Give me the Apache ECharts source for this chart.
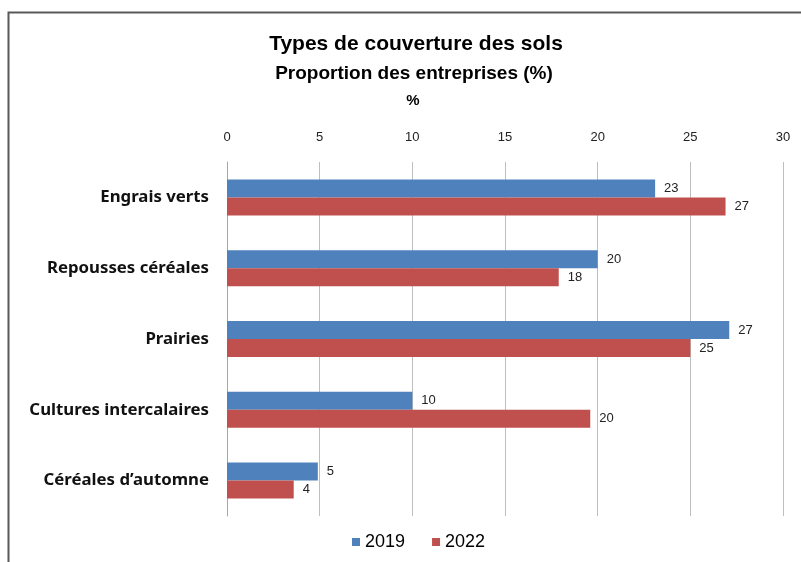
<!DOCTYPE html>
<html>
<head>
<meta charset="utf-8">
<script src="https://cdn.jsdelivr.net/npm/echarts@6/dist/echarts.min.js"></script>
<style>
html,body{margin:0;padding:0;background:#fff;}
#chart{width:801px;height:562px;}
</style>
</head>
<body>
<div id="chart"></div>
<script>
var categories = ['Engrais verts', 'Repousses céréales', 'Prairies', 'Cultures intercalaires', 'Céréales d’automne'];
var values2019 = [23.1, 20.0, 27.1, 10.0, 4.9];
var values2022 = [26.9, 17.9, 25.0, 19.6, 3.6];
var seriesNames = ['2019', '2022'];

var sans = '"Liberation Sans", Arial, sans-serif';
var chart = echarts.init(document.getElementById('chart'), null, {renderer: 'canvas'});
chart.setOption({
  animation: false,
  backgroundColor: '#ffffff',
  graphic: [{
    type: 'rect',
    shape: {x: 8.5, y: 12.5, width: 900, height: 700},
    style: {fill: 'none', stroke: '#595959', lineWidth: 2},
    silent: true
  }],
  title: [
    {text: 'Types de couverture des sols', left: 411, top: 29, textAlign: 'center',
     textStyle: {fontFamily: sans, fontWeight: 'bold', fontSize: 21, color: '#000'}},
    {text: 'Proportion des entreprises (%)', left: 409, top: 59, textAlign: 'center',
     textStyle: {fontFamily: sans, fontWeight: 'bold', fontSize: 19, color: '#000'}},
    {text: '%', left: 408, top: 88, textAlign: 'center',
     textStyle: {fontFamily: sans, fontWeight: 'bold', fontSize: 15, color: '#000'}}
  ],
  legend: {
    data: seriesNames,
    bottom: 6,
    left: 347,
    itemWidth: 8, itemHeight: 8, itemGap: 27,
    icon: 'rect',
    textStyle: {fontFamily: sans, fontSize: 18, color: '#000'}
  },
  grid: {left: 227, right: 18, top: 162, bottom: 46, containLabel: false},
  xAxis: {
    type: 'value', position: 'top', min: 0, max: 30, interval: 5,
    axisLine: {show: false}, axisTick: {show: false},
    axisLabel: {margin: 18, fontFamily: sans, fontSize: 13, color: '#222'},
    splitLine: {show: true, lineStyle: {color: '#BEBEBE', width: 1}}
  },
  yAxis: {
    type: 'category', data: categories, inverse: true,
    axisLine: {show: true, lineStyle: {color: '#A6A6A6', width: 1}},
    axisTick: {show: false},
    axisLabel: {margin: 18, fontFamily: '"Noto Sans", "DejaVu Sans", sans-serif', fontWeight: 'bold', fontSize: 16.8, color: '#111'}
  },
  series: [
    {name: seriesNames[0], type: 'bar', data: values2019, barWidth: 18, barGap: '0%',
     itemStyle: {color: '#4F81BD'},
     label: {show: true, position: 'right', distance: 9, fontFamily: sans, fontSize: 13, color: '#222',
             formatter: function(p){return Math.round(p.value);}}},
    {name: seriesNames[1], type: 'bar', data: values2022, barWidth: 18, barGap: '0%',
     itemStyle: {color: '#C0504D'},
     label: {show: true, position: 'right', distance: 9, fontFamily: sans, fontSize: 13, color: '#222',
             formatter: function(p){return Math.round(p.value);}}}
  ]
});
</script>
</body>
</html>
